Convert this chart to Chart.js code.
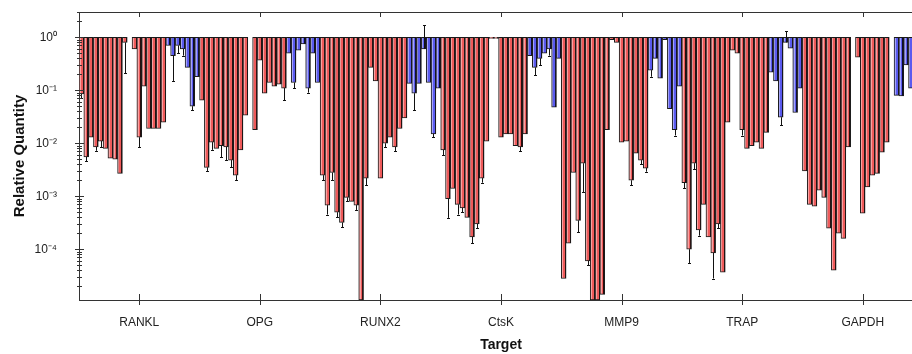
<!DOCTYPE html>
<html>
<head>
<meta charset="utf-8">
<script src="https://cdn.jsdelivr.net/npm/chart.js@4.4.1/dist/chart.umd.min.js"></script>
<style>
  html, body { margin: 0; padding: 0; background: #fff; overflow: hidden; width: 912px; height: 354px; }
  #wrap { width: 930px; height: 354px; }
</style>
</head>
<body>
<div id="wrap"><canvas id="chart" width="930" height="354"></canvas></div>
<script>
// targets on the x axis, 25 samples per target (left to right)
const targets = ['RANKL', 'OPG', 'RUNX2', 'CtsK', 'MMP9', 'TRAP', 'GAPDH'];

const rankl = [0.085, 0.0055, 0.013, 0.0085, 0.011, 0.008, 0.0052, 0.005, 0.0027, 0.8, 1, 0.6, 0.013, 0.12, 0.019, 0.019, 0.019, 0.025, 0.7, 0.45, 0.7, 0.6, 0.27, 0.05, 0.18];
const opg = [0.065, 0.0035, 0.0105, 0.008, 0.009, 0.0085, 0.0048, 0.0025, 0.0075, 0.034, 1, 0.018, 0.37, 0.088, 0.14, 0.12, 0.13, 0.11, 0.5, 0.14, 0.57, 0.75, 0.11, 0.5, 0.14];
const runx2 = [0.0025, 0.00068, 0.0028, 0.0005, 0.00032, 0.00095, 0.0008, 0.00068, 0.000011, 0.0022, 0.27, 0.15, 0.0022, 0.01, 0.013, 0.0085, 0.019, 0.03, 0.135, 0.088, 0.135, 0.6, 0.14, 0.015, 0.11];
const ctsk = [0.0075, 0.0009, 0.0014, 0.0007, 0.0006, 0.0004, 0.00017, 0.0003, 0.0022, 0.011, 0.95, 0.95, 0.013, 0.015, 0.015, 0.009, 0.0085, 0.015, 0.45, 0.27, 0.4, 0.5, 0.6, 0.048, 0.4];
const mmp9 = [0.000028, 0.00013, 0.0028, 0.00035, 0.0042, 0.00006, 0.000011, 0.000011, 0.000014, 0.018, 0.9, 0.8, 0.0105, 0.011, 0.002, 0.0065, 0.0048, 0.0034, 0.24, 0.4, 0.17, 0.9, 0.045, 0.018, 0.12];
const trap = [0.0018, 0.0001, 0.0042, 0.00023, 0.0007, 0.00017, 0.000085, 0.0003, 0.000037, 0.025, 0.57, 0.5, 0.018, 0.008, 0.009, 0.0105, 0.008, 0.016, 0.22, 0.15, 0.031, 0.8, 0.62, 0.038, 0.11];
const gapdh = [0.003, 0.0007, 0.00065, 0.0013, 0.00095, 0.00025, 0.00004, 0.0002, 0.00016, 0.0085, 1, 0.42, 0.00048, 0.0015, 0.0025, 0.0027, 0.0068, 0.0105, 1, 0.08, 0.078, 0.3, 0.11, 0.3, 0.5];

const quantities = [rankl, opg, runx2, ctsk, mmp9, trap, gapdh];

// error bar ends that can be read: [target index, sample index, end value]
const errorBars = [
  [0, 0, 0.07], [0, 1, 0.0046], [0, 3, 0.0072], [0, 4, 0.0085], [0, 9, 0.21], [0, 12, 0.0085],
  [0, 19, 0.15], [0, 20, 0.5], [0, 21, 0.45], [0, 23, 0.042],
  [1, 1, 0.003], [1, 2, 0.0075], [1, 4, 0.0055], [1, 5, 0.0048], [1, 6, 0.0035], [1, 7, 0.002],
  [1, 17, 0.065], [1, 19, 0.11], [1, 22, 0.09],
  [2, 0, 0.002], [2, 1, 0.00045], [2, 2, 0.002], [2, 3, 0.0004], [2, 4, 0.00026], [2, 5, 0.0008],
  [2, 7, 0.00055], [2, 9, 0.0016], [2, 13, 0.0085], [2, 15, 0.007], [2, 19, 0.042], [2, 21, 1.7], [2, 23, 0.013],
  [3, 0, 0.006], [3, 1, 0.00039], [3, 3, 0.00045], [3, 4, 0.0005], [3, 6, 0.00013], [3, 7, 0.00025],
  [3, 8, 0.0018], [3, 16, 0.007], [3, 19, 0.19], [3, 20, 0.3], [3, 22, 0.45],
  [4, 3, 0.00021], [4, 4, 0.0012], [4, 5, 0.00005], [4, 14, 0.0016], [4, 16, 0.004], [4, 17, 0.0029],
  [4, 18, 0.18], [4, 23, 0.014],
  [5, 0, 0.0014], [5, 1, 0.000055], [5, 2, 0.0032], [5, 3, 0.00018], [5, 6, 0.000028], [5, 7, 0.00025],
  [5, 12, 0.014], [5, 20, 0.022], [5, 21, 1.3],
];

const yTickLabels = { '0': '10⁰', '-1': '10⁻¹', '-2': '10⁻²', '-3': '10⁻³', '-4': '10⁻⁴' };

const yMin = 0.000011;
const yMax = 3;
const baseline = 1;

// light / mid / dark stripes of each bar
const shades = {
  red: ['#f7a2a2', '#ee5a5a', '#2a0c0c'],
  blue: ['#a4a4f7', '#5a5aee', '#0c0c2a'],
};

const samplesPerTarget = rankl.length;

function barFill(c) {
  const s = shades[c.dataset.shade];
  const xs = c.chart.scales.x;
  if (c.dataIndex === undefined || !xs || !xs.width) return s[1];
  const cw = xs.width / targets.length;
  const w = cw / samplesPerTarget;
  const left = xs.getPixelForValue(c.dataIndex) - cw / 2 + c.datasetIndex * w;
  if (!isFinite(left) || !isFinite(w)) return s[1];
  const g = c.chart.ctx.createLinearGradient(left, 0, left + w, 0);
  g.addColorStop(0, s[0]); g.addColorStop(0.38, s[0]);
  g.addColorStop(0.38, s[1]); g.addColorStop(0.74, s[1]);
  g.addColorStop(0.74, s[2]); g.addColorStop(1, s[2]);
  return g;
}

// one dataset per sample so each target holds 25 side-by-side bars
const datasets = rankl.map((_, i) => ({
  data: quantities.map(q => [q[i], baseline]),
  shade: i < 18 ? 'red' : 'blue',
  backgroundColor: barFill,
  borderColor: '#1a1a1a',
  borderWidth: 1,
  borderSkipped: false,
  categoryPercentage: 1,
  barPercentage: 1,
}));

const errorPlugin = {
  id: 'errorPlugin',
  afterDatasetsDraw(chart) {
    const { ctx, scales: { y } } = chart;
    ctx.save();
    ctx.strokeStyle = '#111';
    ctx.lineWidth = 1;
    ctx.beginPath();
    errorBars.forEach(([t, s, v]) => {
      const el = chart.getDatasetMeta(s).data[t];
      const x = Math.round(el.x) + 0.5;
      const y0 = y.getPixelForValue(quantities[t][s]);
      const y1 = y.getPixelForValue(v);
      ctx.moveTo(x, y0); ctx.lineTo(x, y1);
      ctx.moveTo(x - 1.5, Math.round(y1) + 0.5); ctx.lineTo(x + 1.5, Math.round(y1) + 0.5);
    });
    ctx.stroke();
    ctx.restore();
  }
};

const frame = {
  id: 'frame',
  afterDraw(chart) {
    const { ctx, chartArea: a, scales: { x, y } } = chart;
    ctx.save();
    ctx.strokeStyle = '#333';
    ctx.lineWidth = 1;
    const line = (x1, y1, x2, y2) => { ctx.beginPath(); ctx.moveTo(x1, y1); ctx.lineTo(x2, y2); ctx.stroke(); };
    line(a.left, a.top + 0.5, a.right, a.top + 0.5);
    x.ticks.forEach((t, i) => {
      const px = Math.round(x.getPixelForTick(i)) + 0.5;
      line(px, a.bottom - 6, px, a.bottom + 5);
      line(px, a.top, px, a.top + 5);
    });
    y.ticks.forEach(t => {
      const py = Math.round(y.getPixelForValue(t.value)) + 0.5;
      const e = Math.log10(t.value);
      const major = Math.abs(e - Math.round(e)) < 1e-9;
      line(a.left - (major ? 4 : 2), py, a.left + (major ? 5 : 3), py);
    });
    ctx.restore();
  }
};

new Chart(document.getElementById('chart'), {
  type: 'bar',
  data: { labels: targets, datasets },
  plugins: [errorPlugin, frame],
  options: {
    responsive: false,
    animation: false,
    layout: { padding: { left: 0, right: 7, top: 12, bottom: 0 } },
    plugins: { legend: { display: false }, tooltip: { enabled: false } },
    scales: {
      x: {
        grid: { display: false },
        border: { color: '#333', width: 1 },
        ticks: { color: '#222', padding: 7, font: { family: 'Liberation Sans', size: 12 } },
        title: { display: true, text: 'Target', color: '#111', padding: { top: 0, bottom: 0 }, font: { family: 'Liberation Sans', size: 14, weight: 'bold' } },
        afterFit: s => { s.height = 54; s.paddingLeft = 0; s.paddingRight = 0; }
      },
      y: {
        type: 'logarithmic',
        min: yMin,
        max: yMax,
        grid: { display: false },
        border: { color: '#333', width: 1 },
        afterBuildTicks: s => {
          const ticks = [];
          for (let e = -5; e <= 0; e++) {
            for (let m = 1; m <= 9; m++) {
              const v = m * Math.pow(10, e);
              if (v >= yMin && v <= yMax) ticks.push({ value: v });
            }
          }
          s.ticks = ticks;
        },
        ticks: {
          autoSkip: false,
          padding: 14,
          color: '#222',
          font: { family: 'Liberation Sans', size: 12 },
          callback: v => {
            const e = Math.log10(v);
            const r = Math.round(e);
            return Math.abs(e - r) < 1e-9 && yTickLabels[String(r)] ? yTickLabels[String(r)] : '';
          }
        },
        title: { display: true, text: 'Relative Quantity', color: '#111', padding: { top: 11, bottom: 0 }, font: { family: 'Liberation Sans', size: 15, weight: 'bold' } },
        afterFit: s => { s.width = 79; s.paddingTop = 0; s.paddingBottom = 0; }
      }
    }
  }
});
</script>
</body>
</html>
